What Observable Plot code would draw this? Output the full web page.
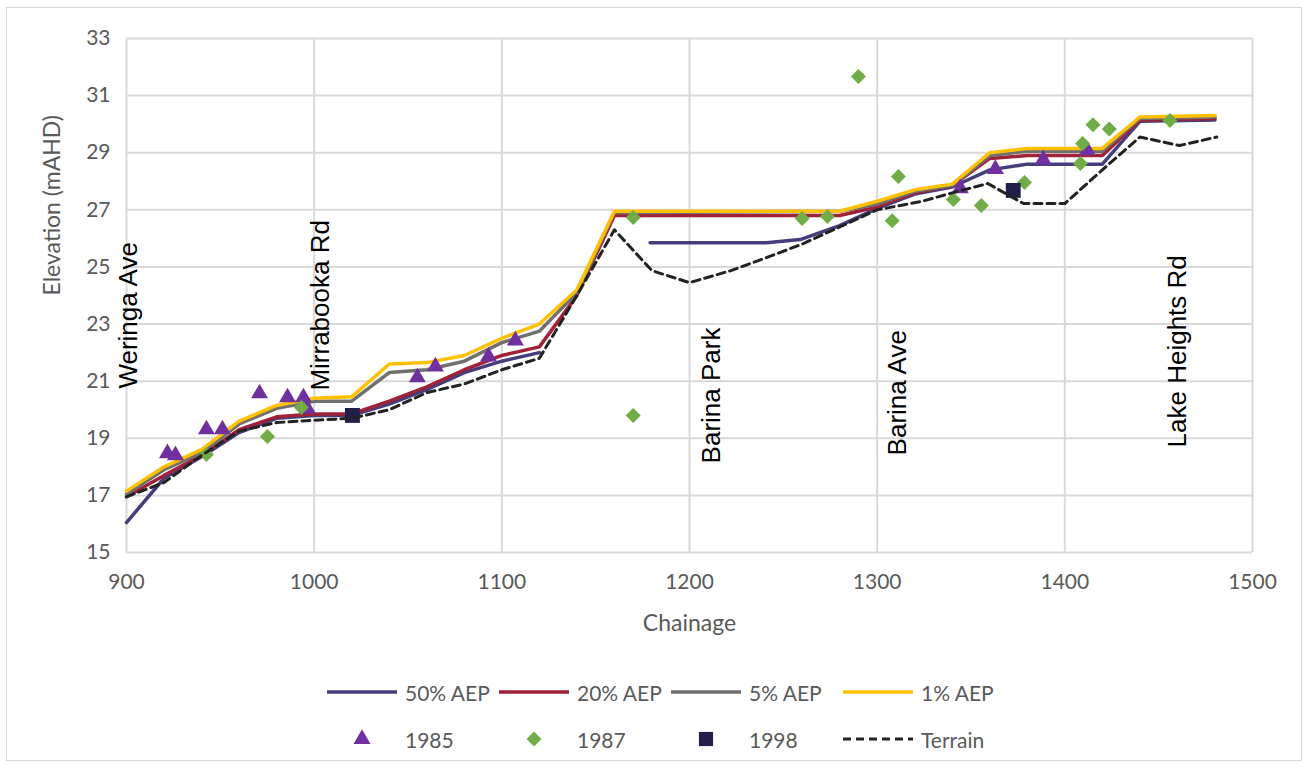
<!DOCTYPE html>
<html><head><meta charset="utf-8">
<script src="https://cdn.jsdelivr.net/npm/d3@7"></script>
<script src="https://cdn.jsdelivr.net/npm/@observablehq/plot@0.6"></script>
<style>
body{margin:0;background:#fff;}
#wrap{position:relative;width:1309px;height:767px;overflow:hidden;font-family:Lato,sans-serif;background:#fff;}
#border{position:absolute;left:6px;top:7px;width:1296px;height:754px;border:1px solid #d9d9d9;box-sizing:border-box;}
#chart{position:absolute;left:0;top:0;}
.leg{position:absolute;height:30px;display:flex;align-items:center;font-size:21px;color:#595959;white-space:nowrap;}
.leg svg{display:block;margin-right:8px;}
</style>
</head><body>
<div id="wrap"><div id="border"></div><div id="chart"></div><div id="legend"></div></div>
<script>
// ---- data ----
const xTicks = [900, 1000, 1100, 1200, 1300, 1400, 1500];
const yTicks = [15, 17, 19, 21, 23, 25, 27, 29, 31, 33];
const xLabel = "Chainage";
const yLabel = "Elevation (mAHD)";

const aep50 = [[900,16.05],[920,17.6],[940,18.35],[960,19.2],[980,19.7],[1000,19.8],[1020,19.8],[1040,20.2],[1060,20.7],[1080,21.3],[1100,21.7],[1120,22.0],[1150,NaN],[1179,25.85],[1241,25.85],[1259,25.96],[1280,26.45],[1300,27.05],[1320,27.55],[1340,27.8],[1360,28.4],[1380,28.6],[1420,28.6],[1440,30.1],[1480,30.15]];
const aep20 = [[900,16.95],[920,17.7],[940,18.4],[960,19.3],[980,19.75],[1000,19.85],[1020,19.85],[1040,20.3],[1060,20.8],[1080,21.4],[1100,21.9],[1120,22.2],[1140,24.0],[1160,26.8],[1280,26.8],[1300,27.1],[1320,27.6],[1340,27.85],[1360,28.8],[1380,28.9],[1420,28.9],[1440,30.15],[1480,30.2]];
const aep5 = [[900,17.05],[920,17.9],[940,18.5],[960,19.5],[980,20.05],[1000,20.3],[1020,20.3],[1040,21.3],[1060,21.4],[1080,21.7],[1100,22.35],[1120,22.75],[1140,24.1],[1160,26.9],[1280,26.95],[1300,27.2],[1320,27.65],[1340,27.85],[1360,28.9],[1380,29.05],[1420,29.05],[1440,30.2],[1480,30.25]];
const aep1 = [[900,17.15],[920,18.0],[940,18.6],[960,19.6],[980,20.15],[1000,20.4],[1020,20.45],[1040,21.6],[1060,21.65],[1080,21.9],[1100,22.5],[1120,23.0],[1140,24.2],[1160,26.95],[1280,26.95],[1300,27.3],[1320,27.7],[1340,27.9],[1360,29.0],[1380,29.15],[1420,29.15],[1440,30.25],[1480,30.3]];
const terrain = [[900,16.95],[920,17.45],[940,18.4],[960,19.25],[980,19.55],[1000,19.63],[1020,19.7],[1040,20.0],[1060,20.6],[1080,20.9],[1100,21.4],[1120,21.8],[1140,24.0],[1160,26.3],[1180,24.87],[1200,24.45],[1222,24.87],[1240,25.3],[1260,25.8],[1280,26.4],[1300,27.0],[1324,27.3],[1343,27.65],[1359,27.92],[1378,27.22],[1400,27.22],[1420,28.4],[1440,29.55],[1461,29.25],[1481,29.55]];

const obs1985 = [[921.8,18.47],[926.1,18.4],[942.6,19.31],[951.1,19.31],[970.9,20.57],[985.8,20.43],[994.3,20.43],[996.4,20.04],[1055,21.13],[1064.6,21.51],[1092.9,21.86],[1107.2,22.42],[1344.3,27.75],[1363,28.43],[1388.5,28.76],[1412,29.08]];
const obs1987 = [[942.6,18.43],[975.1,19.06],[993.2,20.08],[1170,19.8],[1170,26.73],[1260,26.7],[1273.5,26.77],[1290,31.67],[1311.3,28.17],[1308,26.62],[1340.6,27.36],[1355.5,27.15],[1378.5,27.96],[1409.5,29.32],[1408.3,28.62],[1415,29.98],[1423.7,29.83],[1456,30.13]];
const obs1998 = [[1020.4,19.8],[1372.5,27.68]];

const roadNames = ["Weringa Ave", "Mirrabooka Rd", "Barina Park", "Barina Ave", "Lake Heights Rd"];
const roadX = [901, 1003.4, 1212, 1310.8, 1460];
const roadY = [20.74, 20.67, 18.12, 18.4, 18.68];

const seriesNames = ["50% AEP", "20% AEP", "5% AEP", "1% AEP"];
const seriesColors = ["#443f7c", "#a02239", "#6f6f6f", "#ffc000"];
const terrainColor = "#222222";
const colors1985 = "#7030a0", colors1987 = "#70ad47", colors1998 = "#22204a";

// ---- build ----
const toObj = a => a.map(([x, y]) => ({x, y}));
const lineSeries = [aep50, aep20, aep5, aep1];
const roads = roadNames.map((t, i) => ({t, x: roadX[i], y: roadY[i]}));

const marks = [
  Plot.gridX(xTicks, {stroke: "#d9d9d9", strokeOpacity: 1, strokeWidth: 2}),
  Plot.gridY(yTicks, {stroke: "#d9d9d9", strokeOpacity: 1, strokeWidth: 2}),
  Plot.axisX(xTicks, {tickSize: 0, tickPadding: 22, fontSize: 21, tickFormat: d => String(d), label: null}),
  Plot.axisY(yTicks, {tickSize: 0, tickPadding: 16, fontSize: 21, tickFormat: d => String(d), label: null}),
  Plot.text([xLabel], {frameAnchor: "bottom", lineAnchor: "middle", dy: 71, fontSize: 23, fill: "#595959"}),
  Plot.text([yLabel], {frameAnchor: "left", lineAnchor: "middle", dx: -74, rotate: -90, fontSize: 23, fill: "#595959"}),
  Plot.text(roads, {x: "x", y: "y", text: "t", rotate: -90, textAnchor: "start",
    fontSize: 26, fontFamily: "Liberation Sans, Arial, sans-serif", fill: "#000"})
];
lineSeries.forEach((s, i) => marks.push(Plot.line(toObj(s), {x: "x", y: "y", stroke: seriesColors[i], strokeWidth: 3.5})));
marks.push(Plot.dot(toObj(obs1985), {x: "x", y: "y", symbol: "triangle", r: 6.3, fill: colors1985}));
marks.push(Plot.dot(toObj(obs1987), {x: "x", y: "y", symbol: "square", rotate: 45, r: 6.0, fill: colors1987}));
marks.push(Plot.dot(toObj(obs1998), {x: "x", y: "y", symbol: "square", r: 8.4, fill: colors1998}));
marks.push(Plot.line(toObj(terrain), {x: "x", y: "y", stroke: terrainColor, strokeWidth: 3, strokeDasharray: "8,5"}));

const chart = Plot.plot({
  width: 1309, height: 660,
  marginTop: 38, marginLeft: 126, marginRight: 57, marginBottom: 108,
  style: {fontFamily: "Lato, sans-serif", fontSize: "21px", color: "#595959", background: "transparent", overflow: "visible"},
  x: {type: "linear", domain: [900, 1500]},
  y: {type: "linear", domain: [15, 33]},
  marks
});
document.getElementById("chart").appendChild(chart);

// ---- legend ----
const legendCols = [327, 499, 671, 843];
const legendRows = [692, 739];
const legendItems = [
  {label: seriesNames[0], kind: "line", color: seriesColors[0], row: 0, col: 0},
  {label: seriesNames[1], kind: "line", color: seriesColors[1], row: 0, col: 1},
  {label: seriesNames[2], kind: "line", color: seriesColors[2], row: 0, col: 2},
  {label: seriesNames[3], kind: "line", color: seriesColors[3], row: 0, col: 3},
  {label: "1985", kind: "triangle", color: colors1985, row: 1, col: 0},
  {label: "1987", kind: "diamond", color: colors1987, row: 1, col: 1},
  {label: "1998", kind: "square", color: colors1998, row: 1, col: 2},
  {label: "Terrain", kind: "dash", color: terrainColor, row: 1, col: 3}
];
const leg = document.getElementById("legend");
const ns = "http://www.w3.org/2000/svg";
legendItems.forEach(it => {
  const div = document.createElement("div");
  div.className = "leg";
  div.style.left = legendCols[it.col] + "px";
  div.style.top = (legendRows[it.row] - 15) + "px";
  const svg = document.createElementNS(ns, "svg");
  svg.setAttribute("width", 70); svg.setAttribute("height", 30);
  let el;
  if (it.kind === "line" || it.kind === "dash") {
    el = document.createElementNS(ns, "line");
    el.setAttribute("x1", 0); el.setAttribute("x2", 70); el.setAttribute("y1", 15); el.setAttribute("y2", 15);
    el.setAttribute("stroke", it.color); el.setAttribute("stroke-width", it.kind === "dash" ? 3 : 3.5);
    if (it.kind === "dash") el.setAttribute("stroke-dasharray", "8,5");
  } else {
    const sym = it.kind === "triangle" ? d3.symbolTriangle : d3.symbolSquare;
    const size = it.kind === "triangle" ? 125 : it.kind === "diamond" ? 113 : 200;
    el = document.createElementNS(ns, "path");
    el.setAttribute("d", d3.symbol(sym, size)());
    el.setAttribute("fill", it.color);
    el.setAttribute("transform", "translate(35,15)" + (it.kind === "diamond" ? " rotate(45)" : ""));
  }
  svg.appendChild(el);
  div.appendChild(svg);
  const span = document.createElement("span");
  span.textContent = it.label;
  div.appendChild(span);
  leg.appendChild(div);
});
</script>
</body></html>
